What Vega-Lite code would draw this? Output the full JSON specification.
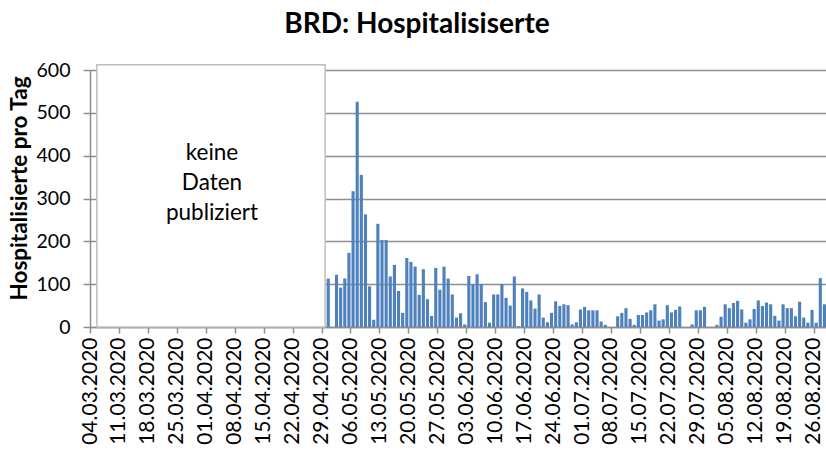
{
  "$schema": "https://vega.github.io/schema/vega-lite/v6.json",
  "width": 736,
  "height": 257,
  "autosize": {"type": "none"},
  "padding": {"left": 90, "top": 70, "right": 0, "bottom": 123},
  "background": "white",
  "title": {"text": "BRD: Hospitalisiserte", "font": "Lato", "fontSize": 28, "fontWeight": "bold", "color": "#000000", "anchor": "middle", "frame": "bounds", "offset": 21},
  "config": {"view": {"stroke": null}, "font": "Lato"},
  "layer": [
    {
      "data": {"values": [
        {"Datum": "2020-04-30", "Hospitalisierte": 113},
        {"Datum": "2020-05-01", "Hospitalisierte": 0},
        {"Datum": "2020-05-02", "Hospitalisierte": 122},
        {"Datum": "2020-05-03", "Hospitalisierte": 92},
        {"Datum": "2020-05-04", "Hospitalisierte": 113},
        {"Datum": "2020-05-05", "Hospitalisierte": 173},
        {"Datum": "2020-05-06", "Hospitalisierte": 317},
        {"Datum": "2020-05-07", "Hospitalisierte": 526},
        {"Datum": "2020-05-08", "Hospitalisierte": 355},
        {"Datum": "2020-05-09", "Hospitalisierte": 263},
        {"Datum": "2020-05-10", "Hospitalisierte": 95},
        {"Datum": "2020-05-11", "Hospitalisierte": 17},
        {"Datum": "2020-05-12", "Hospitalisierte": 241},
        {"Datum": "2020-05-13", "Hospitalisierte": 203},
        {"Datum": "2020-05-14", "Hospitalisierte": 203},
        {"Datum": "2020-05-15", "Hospitalisierte": 118},
        {"Datum": "2020-05-16", "Hospitalisierte": 145},
        {"Datum": "2020-05-17", "Hospitalisierte": 84},
        {"Datum": "2020-05-18", "Hospitalisierte": 33},
        {"Datum": "2020-05-19", "Hospitalisierte": 161},
        {"Datum": "2020-05-20", "Hospitalisierte": 152},
        {"Datum": "2020-05-21", "Hospitalisierte": 141},
        {"Datum": "2020-05-22", "Hospitalisierte": 75},
        {"Datum": "2020-05-23", "Hospitalisierte": 135},
        {"Datum": "2020-05-24", "Hospitalisierte": 65},
        {"Datum": "2020-05-25", "Hospitalisierte": 26},
        {"Datum": "2020-05-26", "Hospitalisierte": 138},
        {"Datum": "2020-05-27", "Hospitalisierte": 87},
        {"Datum": "2020-05-28", "Hospitalisierte": 141},
        {"Datum": "2020-05-29", "Hospitalisierte": 113},
        {"Datum": "2020-05-30", "Hospitalisierte": 76},
        {"Datum": "2020-05-31", "Hospitalisierte": 22},
        {"Datum": "2020-06-01", "Hospitalisierte": 32},
        {"Datum": "2020-06-02", "Hospitalisierte": 6},
        {"Datum": "2020-06-03", "Hospitalisierte": 119},
        {"Datum": "2020-06-04", "Hospitalisierte": 100},
        {"Datum": "2020-06-05", "Hospitalisierte": 123},
        {"Datum": "2020-06-06", "Hospitalisierte": 100},
        {"Datum": "2020-06-07", "Hospitalisierte": 58},
        {"Datum": "2020-06-08", "Hospitalisierte": 10},
        {"Datum": "2020-06-09", "Hospitalisierte": 76},
        {"Datum": "2020-06-10", "Hospitalisierte": 76},
        {"Datum": "2020-06-11", "Hospitalisierte": 100},
        {"Datum": "2020-06-12", "Hospitalisierte": 68},
        {"Datum": "2020-06-13", "Hospitalisierte": 50},
        {"Datum": "2020-06-14", "Hospitalisierte": 118},
        {"Datum": "2020-06-15", "Hospitalisierte": 2},
        {"Datum": "2020-06-16", "Hospitalisierte": 90},
        {"Datum": "2020-06-17", "Hospitalisierte": 82},
        {"Datum": "2020-06-18", "Hospitalisierte": 62},
        {"Datum": "2020-06-19", "Hospitalisierte": 43},
        {"Datum": "2020-06-20", "Hospitalisierte": 76},
        {"Datum": "2020-06-21", "Hospitalisierte": 22},
        {"Datum": "2020-06-22", "Hospitalisierte": 11},
        {"Datum": "2020-06-23", "Hospitalisierte": 33},
        {"Datum": "2020-06-24", "Hospitalisierte": 60},
        {"Datum": "2020-06-25", "Hospitalisierte": 49},
        {"Datum": "2020-06-26", "Hospitalisierte": 53},
        {"Datum": "2020-06-27", "Hospitalisierte": 51},
        {"Datum": "2020-06-28", "Hospitalisierte": 6},
        {"Datum": "2020-06-29", "Hospitalisierte": 11},
        {"Datum": "2020-06-30", "Hospitalisierte": 41},
        {"Datum": "2020-07-01", "Hospitalisierte": 47},
        {"Datum": "2020-07-02", "Hospitalisierte": 39},
        {"Datum": "2020-07-03", "Hospitalisierte": 39},
        {"Datum": "2020-07-04", "Hospitalisierte": 39},
        {"Datum": "2020-07-05", "Hospitalisierte": 13},
        {"Datum": "2020-07-06", "Hospitalisierte": 5},
        {"Datum": "2020-07-07", "Hospitalisierte": 0},
        {"Datum": "2020-07-08", "Hospitalisierte": 0},
        {"Datum": "2020-07-09", "Hospitalisierte": 25},
        {"Datum": "2020-07-10", "Hospitalisierte": 33},
        {"Datum": "2020-07-11", "Hospitalisierte": 44},
        {"Datum": "2020-07-12", "Hospitalisierte": 19},
        {"Datum": "2020-07-13", "Hospitalisierte": 5},
        {"Datum": "2020-07-14", "Hospitalisierte": 28},
        {"Datum": "2020-07-15", "Hospitalisierte": 28},
        {"Datum": "2020-07-16", "Hospitalisierte": 34},
        {"Datum": "2020-07-17", "Hospitalisierte": 39},
        {"Datum": "2020-07-18", "Hospitalisierte": 53},
        {"Datum": "2020-07-19", "Hospitalisierte": 15},
        {"Datum": "2020-07-20", "Hospitalisierte": 18},
        {"Datum": "2020-07-21", "Hospitalisierte": 51},
        {"Datum": "2020-07-22", "Hospitalisierte": 34},
        {"Datum": "2020-07-23", "Hospitalisierte": 40},
        {"Datum": "2020-07-24", "Hospitalisierte": 48},
        {"Datum": "2020-07-25", "Hospitalisierte": 0},
        {"Datum": "2020-07-26", "Hospitalisierte": 0},
        {"Datum": "2020-07-27", "Hospitalisierte": 6},
        {"Datum": "2020-07-28", "Hospitalisierte": 39},
        {"Datum": "2020-07-29", "Hospitalisierte": 39},
        {"Datum": "2020-07-30", "Hospitalisierte": 47},
        {"Datum": "2020-07-31", "Hospitalisierte": 0},
        {"Datum": "2020-08-01", "Hospitalisierte": 0},
        {"Datum": "2020-08-02", "Hospitalisierte": 5},
        {"Datum": "2020-08-03", "Hospitalisierte": 24},
        {"Datum": "2020-08-04", "Hospitalisierte": 53},
        {"Datum": "2020-08-05", "Hospitalisierte": 44},
        {"Datum": "2020-08-06", "Hospitalisierte": 56},
        {"Datum": "2020-08-07", "Hospitalisierte": 61},
        {"Datum": "2020-08-08", "Hospitalisierte": 41},
        {"Datum": "2020-08-09", "Hospitalisierte": 10},
        {"Datum": "2020-08-10", "Hospitalisierte": 18},
        {"Datum": "2020-08-11", "Hospitalisierte": 42},
        {"Datum": "2020-08-12", "Hospitalisierte": 62},
        {"Datum": "2020-08-13", "Hospitalisierte": 49},
        {"Datum": "2020-08-14", "Hospitalisierte": 57},
        {"Datum": "2020-08-15", "Hospitalisierte": 53},
        {"Datum": "2020-08-16", "Hospitalisierte": 26},
        {"Datum": "2020-08-17", "Hospitalisierte": 15},
        {"Datum": "2020-08-18", "Hospitalisierte": 53},
        {"Datum": "2020-08-19", "Hospitalisierte": 44},
        {"Datum": "2020-08-20", "Hospitalisierte": 44},
        {"Datum": "2020-08-21", "Hospitalisierte": 25},
        {"Datum": "2020-08-22", "Hospitalisierte": 59},
        {"Datum": "2020-08-23", "Hospitalisierte": 22},
        {"Datum": "2020-08-24", "Hospitalisierte": 10},
        {"Datum": "2020-08-25", "Hospitalisierte": 40},
        {"Datum": "2020-08-26", "Hospitalisierte": 10},
        {"Datum": "2020-08-27", "Hospitalisierte": 114},
        {"Datum": "2020-08-28", "Hospitalisierte": 53}
      ]},
      "mark": {"type": "bar", "color": "#4F81BD", "timeUnitBandSize": 0.55, "timeUnitBandPosition": 0.225},
      "encoding": {
        "x": {
          "field": "Datum", "type": "temporal", "timeUnit": "utcyearmonthdate",
          "scale": {"type": "utc", "nice": false, "domain": [{"year": 2020, "month": 3, "date": 4, "utc": true}, {"year": 2020, "month": 8, "date": 29, "utc": true}]},
          "axis": {
            "title": null,
            "tickCount": 40,
            "values": [
              {"year": 2020, "month": 3, "date": 4, "utc": true},
              {"year": 2020, "month": 3, "date": 11, "utc": true},
              {"year": 2020, "month": 3, "date": 18, "utc": true},
              {"year": 2020, "month": 3, "date": 25, "utc": true},
              {"year": 2020, "month": 4, "date": 1, "utc": true},
              {"year": 2020, "month": 4, "date": 8, "utc": true},
              {"year": 2020, "month": 4, "date": 15, "utc": true},
              {"year": 2020, "month": 4, "date": 22, "utc": true},
              {"year": 2020, "month": 4, "date": 29, "utc": true},
              {"year": 2020, "month": 5, "date": 6, "utc": true},
              {"year": 2020, "month": 5, "date": 13, "utc": true},
              {"year": 2020, "month": 5, "date": 20, "utc": true},
              {"year": 2020, "month": 5, "date": 27, "utc": true},
              {"year": 2020, "month": 6, "date": 3, "utc": true},
              {"year": 2020, "month": 6, "date": 10, "utc": true},
              {"year": 2020, "month": 6, "date": 17, "utc": true},
              {"year": 2020, "month": 6, "date": 24, "utc": true},
              {"year": 2020, "month": 7, "date": 1, "utc": true},
              {"year": 2020, "month": 7, "date": 8, "utc": true},
              {"year": 2020, "month": 7, "date": 15, "utc": true},
              {"year": 2020, "month": 7, "date": 22, "utc": true},
              {"year": 2020, "month": 7, "date": 29, "utc": true},
              {"year": 2020, "month": 8, "date": 5, "utc": true},
              {"year": 2020, "month": 8, "date": 12, "utc": true},
              {"year": 2020, "month": 8, "date": 19, "utc": true},
              {"year": 2020, "month": 8, "date": 26, "utc": true}
            ],
            "format": "%d.%m.%Y",
            "labelAngle": -90,
            "labelFont": "Lato",
            "labelFontSize": 21,
            "labelColor": "#000000",
            "labelPadding": 4,
            "labelOverlap": false,
            "labelBound": false,
            "labelFlush": false,
            "grid": false,
            "tickColor": "#8E8E8E",
            "tickSize": 6,
            "tickWidth": 1.5,
            "domainColor": "#8E8E8E",
            "domainWidth": 1.5
          }
        },
        "y": {
          "field": "Hospitalisierte", "type": "quantitative",
          "scale": {"domain": [0, 600], "nice": false},
          "axis": {
            "values": [0, 100, 200, 300, 400, 500, 600],
            "title": "Hospitalisierte pro Tag",
            "titleFont": "Lato",
            "titleFontSize": 22.5,
            "titleFontWeight": "bold",
            "titleColor": "#000000",
            "titleAngle": -90,
            "titleX": -71,
            "titleY": 118,
            "titleAlign": "center",
            "titleBaseline": "middle",
            "labelFont": "Lato",
            "labelFontSize": 19.5,
            "labelColor": "#000000",
            "labelPadding": 13,
            "tickSize": 7,
            "tickColor": "#8E8E8E",
            "tickWidth": 1.5,
            "domainColor": "#8E8E8E",
            "domainWidth": 1.5,
            "grid": true,
            "gridColor": "#8E8E8E",
            "gridWidth": 1.5
          }
        }
      }
    },
    {
      "data": {"values": [{}]},
      "mark": {"type": "rect", "fill": "white", "stroke": "#BEBEBE", "strokeWidth": 1.5},
      "encoding": {
        "x": {"datum": {"year": 2020, "month": 3, "date": 5, "hours": 16, "utc": true}, "type": "temporal"},
        "x2": {"datum": {"year": 2020, "month": 4, "date": 29, "hours": 21, "utc": true}},
        "y": {"datum": 0, "type": "quantitative"},
        "y2": {"datum": 612}
      }
    },
    {
      "data": {"values": [{}]},
      "mark": {"type": "text", "font": "Lato", "fontSize": 22.5, "color": "#000000", "align": "center", "baseline": "middle", "lineHeight": 30},
      "encoding": {
        "x": {"datum": {"year": 2020, "month": 4, "date": 2, "hours": 12, "utc": true}, "type": "temporal"},
        "y": {"datum": 406, "type": "quantitative"},
        "text": {"value": ["keine", "Daten", "publiziert"]}
      }
    }
  ]
}
